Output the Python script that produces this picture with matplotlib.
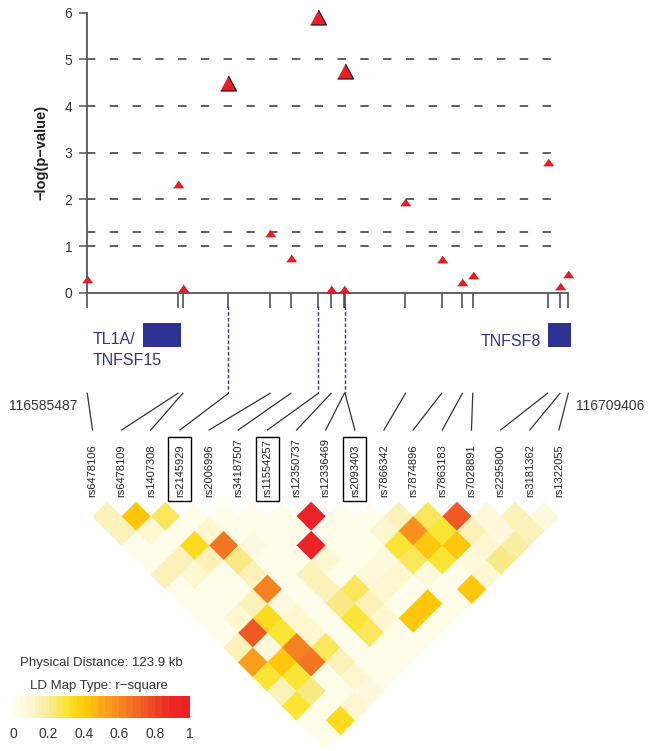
import numpy as np
import matplotlib
matplotlib.use("Agg")
import matplotlib.pyplot as plt
from matplotlib.patches import Rectangle
from matplotlib.collections import PolyCollection
from matplotlib.colors import LinearSegmentedColormap, ListedColormap, Normalize
import matplotlib.colorbar as mcolorbar

plt.rcParams["font.family"] = ["Liberation Sans", "DejaVu Sans"]
plt.rcParams["lines.scale_dashes"] = False

# ---------------------------------------------------------------- data
REGION_START = 116585487
REGION_END = 116709406

snps = ["rs6478106", "rs6478109", "rs1407308", "rs2145929", "rs2006996",
        "rs34187507", "rs11554257", "rs12350737", "rs12336469", "rs2093403",
        "rs7866342", "rs7874896", "rs7863183", "rs7028891", "rs2295800",
        "rs3181362", "rs1322055"]
snp_pos = [116585487, 116608828, 116610090, 116621864, 116632581,
           116637914, 116644999, 116648296, 116651723, 116651900,
           116667464, 116676764, 116682123, 116684802, 116704049,
           116707269, 116709406]
neglogp = [0.30, 2.33, 0.10, 4.50, 1.28, 0.75, 5.90, 0.07, 0.08, 4.75,
           1.95, 0.73, 0.23, 0.38, 2.80, 0.14, 0.40]
highlight = ["rs2145929", "rs11554257", "rs2093403"]
ref_lines = [1, 1.3, 2, 3, 4, 5]

gene_names = ["TL1A/\nTNFSF15", "TNFSF8"]
gene_start = [116599840, 116704250]
gene_end = [116609630, 116710100]

# r-square, one list per SNP distance (1 = neighbours, 2 = next-but-one, ...)
ld_rows = [
    [0.15, 0.42, 0.25, 0.03, 0.03, 0.02, 0.02, 0.95, 0.02, 0.03, 0.12, 0.25, 0.75, 0.04, 0.12, 0.04],
    [0.14, 0.10, 0.03, 0.08, 0.02, 0.02, 0.02, 0.02, 0.02, 0.08, 0.58, 0.30, 0.12, 0.05, 0.15],
    [0.03, 0.03, 0.32, 0.65, 0.04, 0.02, 0.92, 0.03, 0.02, 0.30, 0.40, 0.40, 0.08, 0.18],
    [0.03, 0.15, 0.15, 0.22, 0.02, 0.02, 0.10, 0.02, 0.05, 0.25, 0.28, 0.06, 0.20],
    [0.15, 0.10, 0.03, 0.13, 0.02, 0.15, 0.03, 0.05, 0.08, 0.05, 0.02, 0.10],
    [0.03, 0.03, 0.03, 0.62, 0.03, 0.15, 0.24, 0.08, 0.03, 0.03, 0.40],
    [0.03, 0.03, 0.12, 0.05, 0.02, 0.22, 0.12, 0.03, 0.40, 0.03],
    [0.03, 0.10, 0.33, 0.08, 0.03, 0.28, 0.08, 0.42, 0.03],
    [0.03, 0.75, 0.30, 0.08, 0.03, 0.25, 0.03, 0.03],
    [0.12, 0.05, 0.60, 0.25, 0.03, 0.03, 0.03],
    [0.55, 0.42, 0.65, 0.12, 0.03, 0.03],
    [0.30, 0.28, 0.03, 0.10, 0.03],
    [0.12, 0.22, 0.03, 0.05],
    [0.30, 0.03, 0.10],
    [0.03, 0.33],
    [0.03],
]

cbar_ticks = [0, 0.2, 0.4, 0.6, 0.8, 1]
cbar_ticklabels = ["0", "0.2", "0.4", "0.6", "0.8", "1"]

# ---------------------------------------------------------------- style
W, H = 651, 751
NAVY = "#2E3192"
RED = "#ED1C24"
LABEL_X0, LABEL_STEP = 92.5, 29.15      # pixel layout of the rotated SNP names

anchors = ["#FFFDEA", "#FCF4C8", "#F9EA8C", "#FAE32A", "#FFCC08",
           "#FBAA1B", "#F68B1F", "#F26A23", "#EF4A25", "#EC2A26", "#EC1F26"]
smooth = LinearSegmentedColormap.from_list("ld", anchors)
ld_cmap = ListedColormap([smooth(v) for v in np.linspace(0, 1, 25)])
norm = Normalize(0, 1)

fig = plt.figure(figsize=(W / 100, H / 100), dpi=100)

# overlay in pixel coordinates (y downwards) for the lower part
low = fig.add_axes([0, 0, 1, 1], zorder=0)
low.set_xlim(0, W)
low.set_ylim(H, 0)
low.axis("off")

# ---------------------------------------------------------------- association plot
ax = fig.add_axes([87.3 / W, 1 - 292.7 / H, 481 / W, 280 / H], zorder=1)
ax.patch.set_alpha(0)
ax.set_xlim(REGION_START, REGION_END)
ax.set_ylim(0, 6)
for sp in ("top", "right"):
    ax.spines[sp].set_visible(False)
for sp in ("left", "bottom"):
    ax.spines[sp].set_color("#555555")
    ax.spines[sp].set_linewidth(1.3)
ax.set_yticks(range(7))
ax.set_xticks(snp_pos)
ax.tick_params(axis="x", direction="out", length=10.5, width=1.1,
               color="#444444", labelbottom=False)
ax.tick_params(axis="y", direction="out", length=5.8, width=1.1,
               color="#555555", labelsize=10, labelcolor="#333333", pad=5)

for y in ref_lines:
    ax.axhline(y, xmin=0, xmax=0.989, color="#333333", lw=1.1,
               dashes=(6, 10.4), zorder=2)

small_tri = [(-1, -0.7), (1, -0.7), (0, 0.7)]
big_tri = [(-1, -0.94), (1, -0.94), (0, 0.94)]
for name, pos, v in zip(snps, snp_pos, neglogp):
    if name in highlight:
        ax.plot(pos, v, marker=big_tri, ms=11.5, mfc=RED, mec="#222222",
                mew=0.9, ls="none", clip_on=False, zorder=5)
    else:
        ax.plot(pos, v, marker=small_tri, ms=7.2, mfc=RED, mec="#D0141B",
                mew=0.5, ls="none", clip_on=False, zorder=5)

low.text(41, 152, "−log(p−value)", rotation=90, ha="center", va="center",
         fontsize=10.5, fontweight="bold", color="#222222")


def gx(pos):
    """genomic position -> pixel x of the overlay"""
    disp = ax.transData.transform((pos, 0))
    return low.transData.inverted().transform(disp)[0]


# ---------------------------------------------------------------- genes
for name, s, e in zip(gene_names, gene_start, gene_end):
    x0, x1 = gx(s), gx(e)
    low.add_patch(Rectangle((x0, 323), x1 - x0, 24, fc=NAVY, ec="none"))
low.text(92.5, 340, "TL1A/", ha="left", va="center", fontsize=11.5, color=NAVY)
low.text(92.5, 360.5, "TNFSF15", ha="left", va="center", fontsize=11.5, color=NAVY)
low.text(gx(gene_start[1]) - 7, 341, "TNFSF8", ha="right", va="center",
         fontsize=11.5, color=NAVY)

low.text(77, 406.5, str(REGION_START), ha="right", va="center", fontsize=10,
         color="#333333")
low.text(576, 406.5, str(REGION_END), ha="left", va="center", fontsize=10,
         color="#333333")

# ---------------------------------------------------------------- map lines + names
label_x = [LABEL_X0 + LABEL_STEP * i for i in range(len(snps))]
for i, (name, pos) in enumerate(zip(snps, snp_pos)):
    tx = gx(pos)
    low.plot([tx, label_x[i]], [393.3, 430], color="#333333", lw=0.9)
    if name in highlight:
        low.plot([tx, tx], [306, 393.3], color=NAVY, lw=1.0, dashes=(2.5, 1.6))
        low.add_patch(Rectangle((label_x[i] - 11.5, 437), 23, 64, fill=False,
                                ec="black", lw=1.0))
    low.text(label_x[i], 497, name, rotation=90, ha="center", va="bottom",
             fontsize=8, color="#222222")

# ---------------------------------------------------------------- LD heatmap
half = LABEL_STEP / 2
top0 = 502
polys, cols = [], []
for k, row in enumerate(ld_rows, start=1):
    for i, r2 in enumerate(row):
        j = i + k
        cx = (label_x[i] + label_x[j]) / 2
        cy = top0 + half * k
        polys.append([(cx, cy - half), (cx + half, cy), (cx, cy + half), (cx - half, cy)])
        cols.append(ld_cmap(norm(r2)))
low.add_collection(PolyCollection(polys, facecolors=cols, edgecolors=cols,
                                  linewidths=0.3))

# ---------------------------------------------------------------- legend
low.text(101.5, 663, "Physical Distance: 123.9 kb", ha="center", va="center",
         fontsize=9.5, color="#333333")
low.text(99, 686, "LD Map Type: r−square", ha="center", va="center",
         fontsize=9.5, color="#333333")

cax = fig.add_axes([13.3 / W, 1 - 718 / H, 176.7 / W, 22 / H])
cb = mcolorbar.ColorbarBase(cax, cmap=ld_cmap, norm=norm, orientation="horizontal",
                            ticks=cbar_ticks)
cb.outline.set_visible(False)
cb.set_ticklabels(cbar_ticklabels)
cax.tick_params(length=0, labelsize=10, labelcolor="#333333", pad=6.5)

fig.savefig("out.png", dpi=100)
